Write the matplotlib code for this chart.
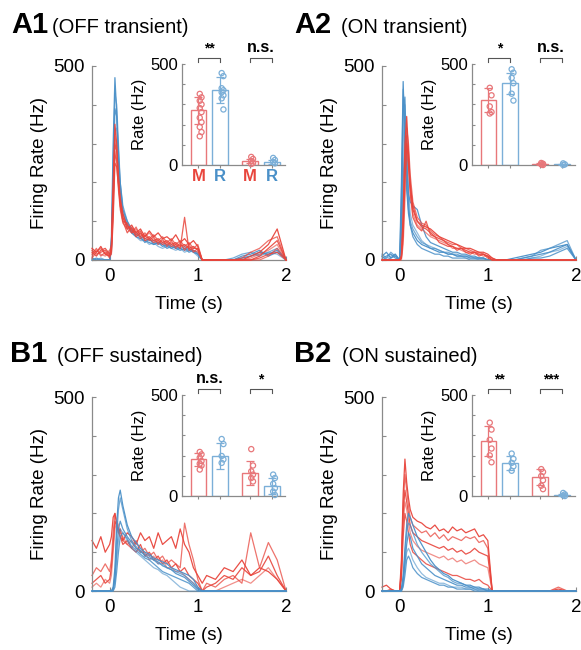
import matplotlib
matplotlib.use("Agg")
import matplotlib.pyplot as plt

plt.rcParams["font.family"] = ["Liberation Sans", "DejaVu Sans"]

# time bins (s) shared by all PSTH traces
t = [-0.2, -0.15, -0.1, -0.05, 0.0, 0.02, 0.04, 0.06, 0.08, 0.1, 0.12, 0.15, 0.2, 0.25,
     0.3, 0.35, 0.4, 0.45, 0.5, 0.55, 0.6, 0.65, 0.7, 0.75, 0.8, 0.85, 0.9, 0.95, 1.0,
     1.05, 1.1, 1.2, 1.3, 1.4, 1.5, 1.6, 1.7, 1.8, 1.9, 2.0]

# A1 OFF transient
a1_blue = [
    [5,0,0,0,0,60,300,470,380,250,180,120,90,70,60,55,50,45,40,45,35,40,30,35,30,25,30,20,15,0,0,0,0,0,5,10,20,15,25,0],
    [0,0,5,0,0,40,250,430,400,300,200,140,100,80,70,60,55,50,50,40,45,35,40,30,30,35,25,25,20,0,0,0,0,5,15,20,10,20,30,0],
    [0,5,0,0,0,30,200,390,370,280,200,130,100,75,65,60,45,55,40,45,40,30,35,30,25,30,20,25,15,0,0,0,0,0,10,15,25,10,20,5],
    [0,0,0,0,0,20,150,330,340,260,190,130,90,70,60,50,50,40,45,35,30,35,30,25,30,20,25,20,10,0,0,0,0,0,5,10,15,20,15,0],
]
a1_red = [
    [30,20,35,15,10,40,200,350,300,200,150,110,80,90,70,80,60,75,60,70,55,60,50,65,45,55,40,50,35,0,0,0,0,0,0,10,20,40,80,0],
    [15,30,10,20,5,30,180,320,290,210,140,100,95,70,85,60,70,55,65,50,60,45,55,40,50,35,45,30,40,0,0,0,0,0,5,20,30,50,60,0],
    [20,10,25,30,15,20,150,300,280,220,160,120,85,80,60,70,55,60,50,55,45,50,40,45,35,40,30,35,25,0,0,0,0,0,0,0,10,30,50,0],
    [10,25,15,10,20,25,120,270,260,200,150,110,90,75,80,65,60,70,55,45,50,40,45,35,40,30,35,25,20,0,0,0,0,0,0,5,15,25,40,0],
    [25,15,20,25,10,15,100,250,240,190,140,100,70,85,65,75,50,55,45,50,40,45,35,40,30,110,25,30,30,0,0,0,0,0,0,0,5,15,20,0],
    [5,20,30,15,25,35,160,280,250,180,130,95,80,70,75,55,65,50,60,40,55,35,50,30,45,25,40,20,30,0,0,0,0,0,0,0,0,10,30,0],
]

# A2 ON transient
a2_blue = [
    [10,20,5,15,0,200,460,300,180,120,90,70,50,40,35,30,25,20,20,15,15,10,10,10,5,5,5,5,0,0,0,0,5,10,15,20,30,35,40,0],
    [15,5,20,10,0,150,440,350,200,130,100,80,60,45,40,30,30,25,20,20,15,15,10,10,10,5,5,5,0,0,0,0,0,5,10,25,30,40,50,0],
    [5,10,15,5,0,100,380,420,250,170,150,140,130,90,60,45,40,35,30,25,20,20,15,15,10,10,5,5,0,0,0,0,0,5,10,15,20,30,40,0],
    [0,5,10,15,0,80,300,400,300,180,120,90,70,50,40,35,30,25,20,15,15,10,10,5,5,5,0,0,0,0,0,0,0,0,5,10,20,25,35,0],
    [10,0,5,10,0,50,200,330,260,150,90,60,40,30,25,20,15,15,10,10,5,5,5,5,0,0,0,0,0,0,0,0,0,0,5,5,10,20,30,0],
]
a2_red = [
    [0,0,0,0,0,10,120,300,370,280,200,130,100,90,85,80,70,60,55,50,45,40,35,30,30,25,20,20,15,5,0,0,0,0,0,0,0,0,0,0],
    [0,0,0,0,0,5,80,250,340,300,220,150,110,95,90,75,65,60,50,45,40,40,30,30,25,20,20,15,10,5,0,0,0,0,0,0,0,0,0,0],
    [0,0,0,0,0,5,60,200,300,260,190,140,100,85,80,70,60,55,50,40,35,30,30,25,20,20,15,15,10,0,0,0,0,0,0,0,0,0,0,0],
    [0,0,0,0,0,0,40,150,280,240,180,120,90,80,70,60,55,50,45,40,30,30,25,20,20,15,15,10,10,0,0,0,0,0,0,0,0,0,0,0],
    [0,0,0,0,0,10,100,270,320,250,170,110,85,75,100,65,60,45,40,35,35,25,30,20,15,20,10,15,5,0,0,0,0,0,0,0,0,0,0,0],
]

# B1 OFF sustained
b1_blue = [
    [0,0,0,0,0,0,10,60,170,240,260,220,170,140,125,110,100,95,85,80,75,70,60,55,50,45,40,30,10,0,0,0,0,0,0,0,0,0,0,0],
    [0,0,0,0,0,0,5,40,140,210,240,210,160,130,115,100,95,90,80,70,70,60,55,50,45,40,30,20,5,0,0,0,0,0,0,0,0,0,0,0],
    [0,0,0,0,0,0,5,30,100,160,180,160,140,125,110,105,90,85,80,75,65,60,55,45,40,35,25,15,5,0,0,0,0,0,0,0,0,0,0,0],
    [0,0,0,0,0,0,0,20,80,130,160,150,130,110,100,90,80,70,60,55,45,40,30,20,10,5,0,0,0,0,0,0,0,0,0,0,0,0,0,0],
    [0,0,0,0,0,0,0,10,50,100,140,150,135,115,105,95,85,80,70,60,50,45,40,35,30,25,20,10,0,0,0,0,0,0,0,0,0,0,0,0],
]
b1_red = [
    [130,110,140,100,120,140,190,200,170,150,160,130,150,140,120,150,130,140,110,150,120,130,140,110,160,120,100,60,40,20,40,30,60,50,80,40,60,50,30,0],
    [40,60,50,70,50,80,150,200,180,150,140,130,120,110,130,100,110,90,100,80,90,70,80,70,60,175,120,80,30,0,20,10,30,40,20,150,60,125,80,0],
    [20,30,40,20,30,60,120,180,170,160,140,120,130,110,100,120,90,100,80,90,70,80,60,70,50,60,40,30,20,0,10,20,40,30,60,40,50,90,40,0],
    [10,20,10,30,20,40,100,160,180,170,150,140,120,130,110,100,100,80,90,70,80,60,60,50,50,40,30,20,10,0,0,0,10,20,30,20,40,60,30,0],
]

# B2 ON sustained
b2_blue = [
    [0,0,0,0,0,5,40,110,170,200,190,170,140,120,100,80,65,55,45,40,30,25,20,15,15,10,10,5,5,0,0,0,0,0,0,0,0,0,0,0],
    [0,0,0,0,0,5,30,90,150,175,170,150,120,100,85,70,60,50,40,35,25,20,20,15,10,10,5,5,0,0,0,0,0,0,0,0,0,0,0,0],
    [0,0,0,0,0,0,20,70,120,150,140,110,90,70,60,50,40,35,30,25,20,15,15,10,10,5,5,5,0,0,0,0,0,0,0,0,0,0,0,0],
    [0,0,0,0,0,0,20,60,100,110,100,80,60,45,35,30,25,20,20,15,10,10,10,5,5,5,0,0,0,0,0,0,0,0,0,0,0,0,0,0],
    [0,0,0,0,0,0,10,40,80,90,80,60,45,35,30,25,20,15,15,10,10,5,5,5,5,0,0,0,0,0,0,0,0,0,0,0,0,0,0,0],
]
b2_red = [
    [10,15,5,0,0,80,250,340,280,240,210,190,180,175,165,160,170,155,160,150,165,155,160,150,155,160,140,145,130,0,0,0,0,0,0,0,0,5,0,0],
    [0,0,5,0,0,60,220,300,260,220,190,170,160,150,155,140,150,135,145,130,140,135,130,140,135,140,125,130,110,0,0,0,0,0,0,0,0,10,0,0],
    [0,0,0,0,0,50,200,260,230,200,170,150,140,130,125,120,115,110,115,105,110,100,105,95,100,110,100,95,90,0,0,0,0,0,0,0,0,0,0,0],
    [0,0,0,0,0,40,170,230,210,180,150,130,115,105,100,95,90,85,90,80,85,75,80,70,75,80,70,65,60,0,0,0,0,0,0,0,0,0,0,0],
    [0,0,0,0,0,30,140,200,180,150,120,100,90,80,70,65,60,55,50,45,40,40,35,30,30,25,30,20,15,0,0,0,0,0,0,0,0,0,0,0],
]

# inset bar charts: order M, R, M, R
a1_means = [270, 372, 20, 15]
a1_sd = [67, 63, 12, 10]
a1_points = [[352, 335, 318, 300, 282, 262, 234, 212, 188, 163, 142],
             [455, 440, 380, 370, 360, 345, 330, 275], [40, 30, 20, 10, 5], [35, 25, 15, 8]]
a2_means = [322, 405, 5, 3]
a2_sd = [60, 52, 4, 3]
a2_points = [[382, 345, 290, 262, 255], [474, 457, 431, 405, 353, 319], [10, 6, 3, 0], [8, 3, 0]]
b1_means = [181, 198, 114, 50]
b1_sd = [32, 63, 60, 38]
b1_points = [[218, 206, 190, 173, 160, 151, 131], [282, 257, 198, 181, 164],
             [232, 151, 122, 106, 89, 72], [106, 89, 60, 39, 22, 5]]
b2_means = [273, 164, 94, 5]
b2_sd = [73, 33, 39, 4]
b2_points = [[363, 329, 278, 235, 201, 167], [210, 184, 164, 147, 125],
             [133, 119, 99, 78, 51, 34], [15, 8, 3, 0]]

bar_pos = [0, 1, 2.35, 3.35]
bar_names = ["M", "R", "M", "R"]

RED = "#E8453C"
BLUE = "#4A90C8"
RED_L = "#E8777A"
BLUE_L = "#7BAFD8"
SPINE = "#8a8a8a"

W, H = 581, 650
fig = plt.figure(figsize=(W / 100, H / 100), dpi=100)


def px_rect(left, top, right, bottom):
    return [left / W, 1 - bottom / H, (right - left) / W, (bottom - top) / H]


def style_axes(ax):
    for s in ["top", "right"]:
        ax.spines[s].set_visible(False)
    for s in ["left", "bottom"]:
        ax.spines[s].set_color(SPINE)
        ax.spines[s].set_linewidth(0.9)


def draw_panel(left, top, reds, blues, means, sds, points, sigs, label, subtitle,
               title_x, sub_x, title_y, red_on_top, show_mr):
    ax = fig.add_axes(px_rect(left, top, left + 194, top + 194))
    style_axes(ax)
    alphas = [0.95, 0.75, 0.9, 0.6, 0.85, 0.7]
    zr = 3 if red_on_top else 2
    zb = 2 if red_on_top else 3
    for i, tr in enumerate(blues):
        ax.plot(t, tr, color=BLUE, lw=0.9, alpha=alphas[i % 6], zorder=zb, clip_on=False)
    for i, tr in enumerate(reds):
        ax.plot(t, tr, color=RED, lw=0.9, alpha=alphas[i % 6], zorder=zr, clip_on=False)
    ax.set_xlim(-0.2, 2.0)
    ax.set_ylim(0, 500)
    ax.set_yticks([0, 100, 200, 300, 400, 500])
    ax.set_yticklabels(["0", "", "", "", "", "500"])
    ax.set_xticks([0, 1, 2])
    ax.tick_params(axis="both", direction="in", length=3, color=SPINE, labelsize=13.5)
    ax.tick_params(axis="y", pad=5)
    ax.tick_params(axis="x", pad=6)
    ax.set_ylabel("Firing Rate (Hz)", fontsize=13.5, labelpad=4)
    ax.set_xlabel("Time (s)", fontsize=13.5, labelpad=8)

    # inset
    ins = fig.add_axes(px_rect(left + 90, top - 2, left + 193, top + 99))
    style_axes(ins)
    ins.patch.set_alpha(0)
    edge = [RED_L, BLUE_L, RED_L, BLUE_L]
    for i in range(4):
        ins.bar(bar_pos[i], means[i], width=0.72, facecolor="white", edgecolor=edge[i],
                lw=1.0, zorder=2)
        ins.errorbar(bar_pos[i], means[i], yerr=sds[i], color=edge[i], lw=0.9,
                     capsize=3, capthick=0.9, zorder=3)
        xs = [bar_pos[i] + (0.06 if k % 2 == 0 else 0.14) for k in range(len(points[i]))]
        ins.scatter(xs, points[i], s=14, facecolor="none", edgecolor=edge[i],
                    lw=0.9, zorder=4, clip_on=False)
    ins.set_xlim(-0.75, 3.95)
    ins.set_ylim(0, 500)
    ins.set_yticks([0, 100, 200, 300, 400, 500])
    ins.set_yticklabels(["0", "", "", "", "", "500"])
    ins.tick_params(axis="y", direction="in", length=2.5, color=SPINE, labelsize=12, pad=3)
    ins.set_xticks(bar_pos)
    if show_mr:
        ins.set_xticklabels(bar_names, fontsize=12, fontweight="bold")
        for tl, c in zip(ins.get_xticklabels(), [RED, BLUE, RED, BLUE]):
            tl.set_color(c)
    else:
        ins.set_xticklabels([])
    ins.tick_params(axis="x", direction="out", length=2, color=SPINE, pad=1)
    ins.set_ylabel("Rate (Hz)", fontsize=12, labelpad=2)
    for g, s in enumerate(sigs):
        x0, x1 = bar_pos[2 * g], bar_pos[2 * g + 1]
        ins.plot([x0, x0, x1, x1], [510, 530, 530, 510], color="#555555", lw=0.8,
                 clip_on=False)
        ins.text((x0 + x1) / 2, 540 if s != "n.s." else 545, s, ha="center", va="bottom",
                 fontsize=10 if s != "n.s." else 11.5, fontweight="bold")

    fig.text(title_x / W, 1 - title_y / H, label, fontsize=21, fontweight="bold",
             va="baseline", ha="left")
    fig.text(sub_x / W, 1 - title_y / H, subtitle, fontsize=14.5, va="baseline", ha="left")


draw_panel(92, 66, a1_red, a1_blue, a1_means, a1_sd, a1_points, ["**", "n.s."],
           "A1", "(OFF transient)", 11, 52, 33, True, True)
draw_panel(382, 66, a2_red, a2_blue, a2_means, a2_sd, a2_points, ["*", "n.s."],
           "A2", "(ON transient)", 294, 341, 33, True, False)
draw_panel(92, 397, b1_red, b1_blue, b1_means, b1_sd, b1_points, ["n.s.", "*"],
           "B1", "(OFF sustained)", 10, 57, 362, False, False)
draw_panel(382, 397, b2_red, b2_blue, b2_means, b2_sd, b2_points, ["**", "***"],
           "B2", "(ON sustained)", 294, 342, 362, False, False)

fig.savefig("out.png", dpi=100)
